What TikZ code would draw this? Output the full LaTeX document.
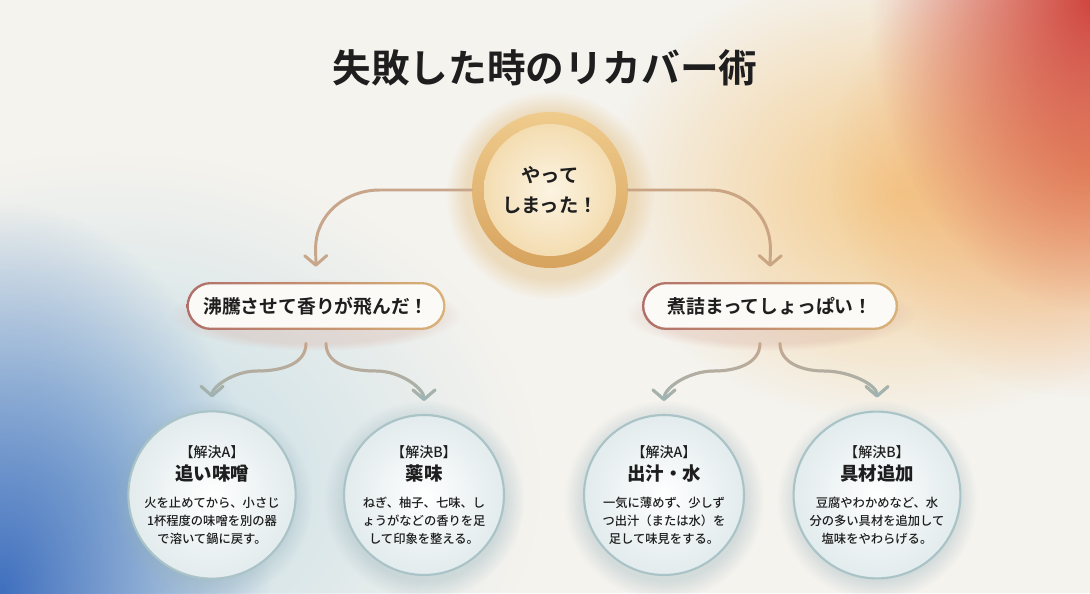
\documentclass[tikz,border=0pt]{standalone}
\usepackage{fontspec}
\setmainfont{Noto Sans CJK JP}[BoldFont={Noto Sans CJK JP Bold}]
\newfontfamily\medfont{Noto Sans CJK JP Medium}
\usetikzlibrary{arrows.meta,fadings}
\definecolor{paper}{HTML}{F5F3EE}
\definecolor{ink}{HTML}{1E1E1E}
\definecolor{warm}{HTML}{C8A68B}
\definecolor{cool}{HTML}{94B8BF}
\definecolor{gold}{HTML}{D7A35E}
\definecolor{goldlt}{HTML}{EFCB8C}
\definecolor{cream}{HTML}{F2D8A8}
\definecolor{creamlt}{HTML}{FCF4E2}
\definecolor{pillin}{HTML}{FCFAF7}
\definecolor{rimred}{HTML}{B06F69}
\definecolor{rimgold}{HTML}{D9B278}
\definecolor{rimteal}{HTML}{A9C3C7}
\definecolor{solout}{HTML}{E2EBED}
\definecolor{bgyellow}{HTML}{F4CB8C}
\definecolor{bgorange}{HTML}{F0AA70}
\definecolor{bgred}{HTML}{D0463F}
\definecolor{bgteal}{HTML}{C2DCE6}
\definecolor{bgblue}{HTML}{3F6FBE}
\definecolor{shgold}{HTML}{E2BE82}
\definecolor{shteal}{HTML}{96B0B8}
\definecolor{shpink}{HTML}{D6ACA0}
\tikzfading[name=glow, inner color=transparent!0, outer color=transparent!100]
\tikzfading[name=fadeup, top color=transparent!100, bottom color=transparent!0]
\pgfdeclarelayer{back}
\pgfsetlayers{back,main}
\begin{document}
\begin{tikzpicture}[x=0.02cm, y=0.02cm,
  lnk/.style={line width=1.7pt, line cap=round, -{Straight Barb[length=0.19cm, width=0.44cm, round]}},
  hub/.style={circle, minimum size=3.12cm, inner sep=0pt, top color=goldlt, bottom color=gold,
    align=center, text=ink, font=\bfseries\fontsize{11}{17}\selectfont,
    path picture={\shade[inner color=creamlt, outer color=cream]
      (path picture bounding box.center) circle (1.32cm);}},
  pill/.style={rectangle, rounded corners=0.48cm, minimum width=5.18cm, minimum height=0.96cm,
    left color=rimred, right color=rimgold, text=ink, font=\bfseries\fontsize{10.7}{12}\selectfont,
    path picture={\fill[pillin, rounded corners=0.45cm]
      ([xshift=1.3pt,yshift=1.3pt]path picture bounding box.south west) rectangle
      ([xshift=-1.3pt,yshift=-1.3pt]path picture bounding box.north east);}},
  sol/.style={circle, minimum size=3.2cm, inner sep=0pt, draw=rimteal, line width=1.2pt,
    inner color=white, outer color=solout,
    align=center, text=ink, font=\medfont\fontsize{7}{10.2}\selectfont}]
\useasboundingbox (0,0) rectangle (1090,593);
\begin{pgfonlayer}{back}
\fill[paper] (0,0) rectangle (1090,593);
\fill[bgyellow, path fading=glow] (900,400) ellipse (300 and 230);
\fill[bgorange, path fading=glow] (1090,430) ellipse (260 and 235);
\fill[bgred, path fading=glow] (1090,593) ellipse (220 and 310);
\fill[bgteal, path fading=glow] (110,110) ellipse (430 and 330);
\fill[bgblue, path fading=glow] (0,0) ellipse (270 and 390);
\end{pgfonlayer}

\node[font=\bfseries\fontsize{22}{26}\selectfont, text=ink] (ttl) at (545,525) {失敗した時のリカバー術};
\node[hub] (top) at (550,403) {やって\\しまった！};
\node[pill] (pl) at (316,287) {沸騰させて香りが飛んだ！};
\node[pill, minimum width=5.12cm] (pr) at (770,287) {煮詰まってしょっぱい！};

\node[sol] (c1) at (212,98) {{\fontsize{8}{10}\selectfont【解決A】}\\[3pt]{\bfseries\fontsize{10.5}{12}\selectfont 追い味噌}\\[5pt]火を止めてから、小さじ\\1杯程度の味噌を別の器\\で溶いて鍋に戻す。};
\node[sol] (c2) at (424,98) {{\fontsize{8}{10}\selectfont【解決B】}\\[3pt]{\bfseries\fontsize{10.5}{12}\selectfont 薬味}\\[5pt]ねぎ、柚子、七味、し\\ょうがなどの香りを足\\して印象を整える。};
\node[sol] (c3) at (664,98) {{\fontsize{8}{10}\selectfont【解決A】}\\[3pt]{\bfseries\fontsize{10.5}{12}\selectfont 出汁・水}\\[5pt]一気に薄めず、少しず\\つ出汁（または水）を\\足して味見をする。};
\node[sol] (c4) at (877,98) {{\fontsize{8}{10}\selectfont【解決B】}\\[3pt]{\bfseries\fontsize{10.5}{12}\selectfont 具材追加}\\[5pt]豆腐やわかめなど、水\\分の多い具材を追加して\\塩味をやわらげる。};

\begin{pgfonlayer}{back}
\fill[shgold, opacity=.45, path fading=circle with fuzzy edge 20 percent] ([yshift=-3pt]top.center) circle (104);
\foreach \n in {c1,c2,c3,c4}
  \fill[shteal, opacity=.35, path fading=circle with fuzzy edge 20 percent] ([yshift=-3pt]\n.center) circle (100);
\foreach \n in {pl,pr}
  \fill[shpink, opacity=.3, path fading=circle with fuzzy edge 20 percent] ([yshift=-5pt]\n.center) ellipse (145 and 36);
\end{pgfonlayer}

\coordinate (s1) at ([xshift=-0.2cm,yshift=-0.26cm]pl.south);
\coordinate (s2) at ([xshift=0.2cm,yshift=-0.26cm]pl.south);
\coordinate (s3) at ([xshift=-0.2cm,yshift=-0.26cm]pr.south);
\coordinate (s4) at ([xshift=0.2cm,yshift=-0.26cm]pr.south);
\coordinate (m1) at (257,222);
\coordinate (m2) at (376,222);
\coordinate (m3) at (714,222);
\coordinate (m4) at (824,222);

\draw[lnk, warm, shorten >=0.3cm] (top.west) -- ++(-92,0) to[out=180,in=90] ++(-64,-58) -- (pl.north);
\draw[lnk, warm!85!gold, shorten >=0.3cm] (top.east) -- ++(82,0) to[out=0,in=90] ++(60,-58) -- (pr.north);
\foreach \s/\m/\e/\a/\b in {s1/m1/c1/0/180, s2/m2/c2/180/0, s3/m3/c3/0/180, s4/m4/c4/180/0} {
  \draw[lnk, warm, shorten >=0.26cm] (\s) to[out=-90,in=\a] (\m) to[out=\b,in=90] (\e.north);
  \draw[lnk, cool, shorten >=0.26cm, path fading=fadeup] (\s) to[out=-90,in=\a] (\m) to[out=\b,in=90] (\e.north);
}
\end{tikzpicture}
\end{document}
